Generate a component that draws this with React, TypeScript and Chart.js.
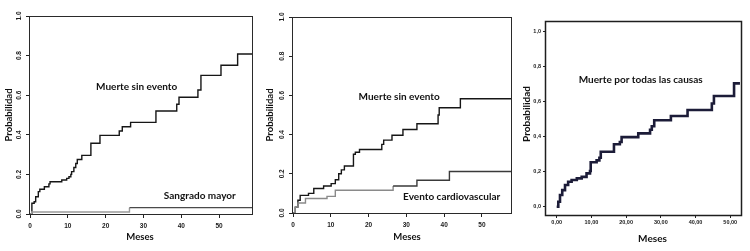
import React, { useEffect, useRef } from "react";
import { Chart, registerables } from "chart.js";

Chart.register(...registerables);

// ---------------- Data ----------------
const MONTH_STEP = 10;
const PROB_STEP = 0.2;

// Panel 1
const P1_DEATH_MONTHS = [0, 0.5, 1.1, 1.5, 2.2, 2.6, 3.8, 5.0, 5.3, 8.4, 9.7, 10.3, 10.8, 11.0, 11.6, 12.1, 12.5, 13.7, 16.1, 18.5, 23.6, 24.4, 26.6, 33.3, 38.8, 39.4, 44.4, 45.2, 50.5, 54.9, 58.7];
const P1_DEATH_PROB = [0, 0.054, 0.062, 0.087, 0.113, 0.125, 0.138, 0.152, 0.163, 0.172, 0.18, 0.188, 0.2, 0.214, 0.235, 0.255, 0.275, 0.296, 0.357, 0.397, 0.419, 0.441, 0.463, 0.52, 0.554, 0.59, 0.626, 0.7, 0.751, 0.808, 0.808];
const P1_BLEED_MONTHS = [0, 0.45, 26.3, 58.7];
const P1_BLEED_PROB = [0, 0.01, 0.032, 0.032];

// Panel 2
const P2_DEATH_MONTHS = [0, 0.6, 1.3, 1.9, 4.1, 5.5, 8.1, 10.1, 11.2, 12.1, 12.8, 13.6, 16.0, 16.5, 17.6, 23.5, 24.0, 26.2, 29.1, 32.8, 38.4, 38.7, 44.3, 57.7];
const P2_DEATH_PROB = [0, 0.03, 0.065, 0.09, 0.1, 0.125, 0.138, 0.15, 0.17, 0.2, 0.22, 0.24, 0.3, 0.31, 0.324, 0.35, 0.372, 0.397, 0.426, 0.455, 0.5, 0.537, 0.583, 0.583];
const P2_CV_MONTHS = [0, 0.6, 1.3, 3.3, 9.0, 11.2, 26.5, 32.8, 41.4, 57.7];
const P2_CV_PROB = [0, 0.03, 0.051, 0.074, 0.085, 0.116, 0.138, 0.167, 0.212, 0.212];

// Panel 3
const P3_ALL_MONTHS = [0, 0.46, 0.95, 1.6, 2.4, 3.3, 4.3, 5.8, 7.2, 8.6, 9.6, 9.8, 11.5, 12.3, 12.7, 16.5, 18.2, 18.7, 23.5, 26.9, 27.4, 28.1, 32.9, 37.7, 44.7, 45.3, 51.1, 52.8];
const P3_ALL_PROB = [0, 0.029, 0.067, 0.095, 0.124, 0.143, 0.153, 0.162, 0.171, 0.191, 0.204, 0.254, 0.265, 0.28, 0.314, 0.357, 0.37, 0.398, 0.419, 0.44, 0.46, 0.494, 0.518, 0.553, 0.59, 0.633, 0.705, 0.705];

const LABEL_DEATH = "Muerte sin evento";
const LABEL_BLEED = "Sangrado mayor";
const LABEL_CV = "Evento cardiovascular";
const LABEL_ALL = "Muerte por todas las causas";
const TITLE_Y = "Probabilidad";
const TITLE_X = "Meses";

// ---------------- Styles ----------------
const TEXT_FAMILY = "Lato, 'Liberation Sans', sans-serif";
const TICK_FAMILY = "'Liberation Sans', Arial, sans-serif";

type Curve = { months: number[]; prob: number[]; color: string; lateColor?: string; switchAt?: number; width: number };
type Note = { text: string; x: number; y: number };
type Title = { text: string; x: number; y: number; rotate?: boolean };
type PanelCfg = {
  left: number; width: number; height: number;
  padTop: number; padRight: number; yWidth: number; xHeight: number;
  xMin: number; xMax: number; yMin: number; yMax: number;
  style: "r" | "spss";
  curves: Curve[]; notes: Note[]; titles: Title[];
  noteFont: string; titleFont: string; boxColor: string; boxWidth: number;
};

const PANELS: PanelCfg[] = [
  {
    left: 0, width: 260, height: 251, padTop: 16, padRight: 8, yWidth: 30, xHeight: 37,
    xMin: 0, xMax: 58.7, yMin: 0, yMax: 1, style: "r",
    curves: [
      { months: P1_BLEED_MONTHS, prob: P1_BLEED_PROB, color: "#9a9a9a", lateColor: "#4a4a4a", switchAt: 26, width: 1.4 },
      { months: P1_DEATH_MONTHS, prob: P1_DEATH_PROB, color: "#161616", width: 1.4 },
    ],
    notes: [
      { text: LABEL_DEATH, x: 28.2, y: 0.64 },
      { text: LABEL_BLEED, x: 44.9, y: 0.09 },
    ],
    titles: [
      { text: TITLE_Y, x: 9, y: 115, rotate: true },
      { text: TITLE_X, x: 140, y: 237 },
    ],
    noteFont: `bold 10px ${TEXT_FAMILY}`, titleFont: `bold 9.5px ${TEXT_FAMILY}`,
    boxColor: "#2a2a2a", boxWidth: 1,
  },
  {
    left: 260, width: 255, height: 251, padTop: 17, padRight: 4, yWidth: 33, xHeight: 38,
    xMin: 0, xMax: 57.7, yMin: 0, yMax: 1, style: "r",
    curves: [
      { months: P2_CV_MONTHS, prob: P2_CV_PROB, color: "#8a8a8a", lateColor: "#3a3a3a", switchAt: 26, width: 1.4 },
      { months: P2_DEATH_MONTHS, prob: P2_DEATH_PROB, color: "#161616", width: 1.4 },
    ],
    notes: [
      { text: LABEL_DEATH, x: 28.1, y: 0.593 },
      { text: LABEL_CV, x: 42.0, y: 0.085 },
    ],
    titles: [
      { text: TITLE_Y, x: 10, y: 115, rotate: true },
      { text: TITLE_X, x: 147, y: 237 },
    ],
    noteFont: `bold 10px ${TEXT_FAMILY}`, titleFont: `bold 9.5px ${TEXT_FAMILY}`,
    boxColor: "#2a2a2a", boxWidth: 1,
  },
  {
    left: 515, width: 235, height: 251, padTop: 21, padRight: 9, yWidth: 31, xHeight: 36,
    xMin: -3.08, xMax: 53.1, yMin: -0.047, yMax: 1.061, style: "spss",
    curves: [
      { months: P3_ALL_MONTHS, prob: P3_ALL_PROB, color: "#1c1c38", width: 2.6 },
    ],
    notes: [{ text: LABEL_ALL, x: 24.2, y: 0.724 }],
    titles: [
      { text: TITLE_Y, x: 12, y: 114, rotate: true },
      { text: TITLE_X, x: 137.5, y: 239 },
    ],
    noteFont: `bold 10px ${TEXT_FAMILY}`, titleFont: `bold 10px ${TEXT_FAMILY}`,
    boxColor: "#1e1e1e", boxWidth: 1.5,
  },
];

const R_YLABEL_OFFSET = 11; // distance from the axis to the centre of rotated y labels
const R_TICK_FONT = `bold 6.5px ${TICK_FAMILY}`;

function buildChart(canvas: HTMLCanvasElement, cfg: PanelCfg) {
  const isR = cfg.style === "r";
  const tickColor = "#222";

  const datasets = cfg.curves.map((c) => ({
    data: c.months.map((m, i) => ({ x: m, y: c.prob[i] })),
    stepped: true as const,
    borderColor: c.color,
    borderWidth: c.width,
    pointRadius: 0,
    fill: false,
    segment: c.lateColor
      ? { borderColor: (ctx: any) => (ctx.p0.parsed.x >= (c.switchAt as number) ? c.lateColor : c.color) }
      : undefined,
  }));

  const decor = {
    id: "decor",
    afterDraw(chart: any) {
      const { ctx, chartArea: ca, scales } = chart;
      ctx.save();
      // frame
      ctx.strokeStyle = cfg.boxColor;
      ctx.lineWidth = cfg.boxWidth;
      ctx.strokeRect(Math.round(ca.left) - 0.5, Math.round(ca.top) + 0.5, Math.round(ca.right - ca.left) + 1, Math.round(ca.bottom - ca.top));
      // R-style rotated y tick labels (values from the y scale's own ticks)
      if (isR) {
        ctx.fillStyle = "#1a1a1a";
        ctx.font = R_TICK_FONT;
        ctx.textAlign = "center";
        ctx.textBaseline = "middle";
        for (const t of scales.y.ticks) {
          const py = scales.y.getPixelForValue(t.value);
          ctx.save();
          ctx.translate(ca.left - R_YLABEL_OFFSET, py);
          ctx.rotate(-Math.PI / 2);
          ctx.fillText(String(t.label), 0, 0);
          ctx.restore();
        }
      }
      // annotations
      ctx.fillStyle = "#111";
      ctx.textAlign = "center";
      ctx.textBaseline = "middle";
      ctx.font = cfg.noteFont;
      for (const n of cfg.notes) {
        ctx.fillText(n.text, scales.x.getPixelForValue(n.x), scales.y.getPixelForValue(n.y));
      }
      // axis titles
      ctx.font = cfg.titleFont;
      for (const t of cfg.titles) {
        ctx.save();
        ctx.translate(t.x, t.y);
        if (t.rotate) ctx.rotate(-Math.PI / 2);
        ctx.fillText(t.text, 0, 0);
        ctx.restore();
      }
      ctx.restore();
    },
  };

  return new Chart(canvas, {
    type: "line",
    data: { datasets: datasets as any },
    plugins: [decor],
    options: {
      animation: false,
      responsive: false,
      maintainAspectRatio: false,
      layout: { padding: { top: cfg.padTop, right: cfg.padRight, left: 0, bottom: 0 } },
      plugins: { legend: { display: false }, tooltip: { enabled: false }, title: { display: false } },
      scales: {
        x: {
          type: "linear",
          min: cfg.xMin,
          max: cfg.xMax,
          border: { display: false },
          grid: { display: true, drawOnChartArea: false, drawTicks: true, tickLength: isR ? 4 : 3, tickColor, lineWidth: 1 },
          ticks: {
            stepSize: MONTH_STEP,
            includeBounds: false,
            autoSkip: false,
            maxRotation: 0,
            minRotation: 0,
            color: "#1a1a1a",
            padding: isR ? 4 : 1,
            font: { family: TICK_FAMILY, size: isR ? 6.5 : 5.5, weight: "bold" },
            callback: (v: any) => (isR ? String(Math.round(Number(v))) : Number(v).toFixed(2).replace(".", ",")),
          },
          afterFit: (s: any) => {
            s.height = cfg.xHeight;
          },
        },
        y: {
          type: "linear",
          min: cfg.yMin,
          max: cfg.yMax,
          border: { display: false },
          grid: { display: true, drawOnChartArea: false, drawTicks: true, tickLength: isR ? 4 : 3, tickColor, lineWidth: 1 },
          ticks: {
            display: !isR,
            stepSize: PROB_STEP,
            includeBounds: false,
            autoSkip: false,
            padding: 2,
            color: "#1a1a1a",
            font: { family: TICK_FAMILY, size: 5.5, weight: "bold" },
            callback: (v: any) => (isR ? Number(v).toFixed(1) : Number(v).toFixed(1).replace(".", ",")),
          },
          afterFit: (s: any) => {
            s.width = cfg.yWidth;
          },
        },
      },
    } as any,
  });
}

function Panel({ cfg }: { cfg: PanelCfg }) {
  const ref = useRef<HTMLCanvasElement | null>(null);
  useEffect(() => {
    if (!ref.current) return;
    const chart = buildChart(ref.current, cfg);
    return () => chart.destroy();
  }, [cfg]);
  return (
    <canvas
      ref={ref}
      width={cfg.width}
      height={cfg.height}
      style={{ position: "absolute", left: cfg.left, top: 0, width: cfg.width, height: cfg.height }}
    />
  );
}

export default function App() {
  return (
    <div style={{ position: "absolute", left: 0, top: 0, width: 750, height: 251, background: "#fff", overflow: "hidden" }}>
      {PANELS.map((p, i) => (
        <Panel key={i} cfg={p} />
      ))}
    </div>
  );
}
